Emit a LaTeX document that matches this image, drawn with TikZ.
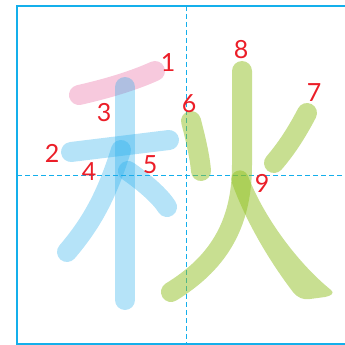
\documentclass[tikz,border=0pt]{standalone}
\usepackage{fontspec}
\setmainfont{Lato}
\usepackage{tikz}
\usetikzlibrary{positioning}
\definecolor{gridblue}{RGB}{20,175,235}
\definecolor{pinkink}{RGB}{235,120,170}
\definecolor{blueink}{RGB}{30,170,235}
\definecolor{greenink}{RGB}{145,192,35}
\definecolor{numred}{RGB}{235,30,40}
\tikzset{
  penstroke/.style={line width=20pt,line cap=round,line join=round},
  num/.style={text=numred,font=\fontsize{25}{25}\selectfont,inner sep=0pt}
}

\begin{document}
\begin{tikzpicture}[x=1pt,y=-1pt]
\useasboundingbox (0,0) rectangle (345,345);
% grid
\draw[gridblue,line width=1pt,dash pattern=on 5pt off 3pt] (186.5,6) -- (186.5,344);
\draw[gridblue,line width=1pt,dash pattern=on 5pt off 3pt] (17,175.5) -- (345,175.5);
\draw[gridblue,line width=2pt] (345,6) -- (17,6) -- (17,344) -- (345,344);
% strokes
\draw[penstroke,pinkink,opacity=0.4] (79,95) .. controls (110,88) and (135,80) .. (155,71);
\draw[penstroke,blueink,opacity=0.33] (71,152) -- (169,140);
\draw[penstroke,blueink,opacity=0.33] (125,87) -- (125,300);
\draw[penstroke,blueink,opacity=0.33] (121,150) .. controls (106,198) and (90,225) .. (67,252);
\draw[penstroke,blueink,opacity=0.33] (128,171) .. controls (145,183) and (160,196) .. (167,207);
\draw[penstroke,greenink,opacity=0.5] (191,121) .. controls (196,140) and (200,158) .. (201,171);
\draw[penstroke,greenink,opacity=0.5] (307,113) .. controls (296,134) and (286,149) .. (274,163);
\draw[penstroke,greenink,opacity=0.5] (242,71) -- (242,165) .. controls (242,228) and (215,265) .. (171,292);
\fill[greenink,opacity=0.5] (232,183) .. controls (228,170) and (244,166) .. (248,176)
  .. controls (265,220) and (300,265) .. (331,290)
  .. controls (335,293) and (331,296) .. (325,297)
  -- (310,299) .. controls (303,300) and (298,298) .. (293,292)
  .. controls (270,262) and (246,222) .. (232,183) -- cycle;
% numbers
\node[num] (n1) at (168,63) {1};
\node[num] (n2) at (52,153) {2};
\node[num] (n3) at (104,113) {3};
\node[num] (n4) at (89,172) {4};
\node[num] (n5) at (150,165) {5};
\node[num] (n6) at (189,104) {6};
\node[num] (n7) at (314,93) {7};
\node[num] (n8) at (241,50) {8};
\node[num] (n9) at (262,183) {9};
\end{tikzpicture}
\end{document}
